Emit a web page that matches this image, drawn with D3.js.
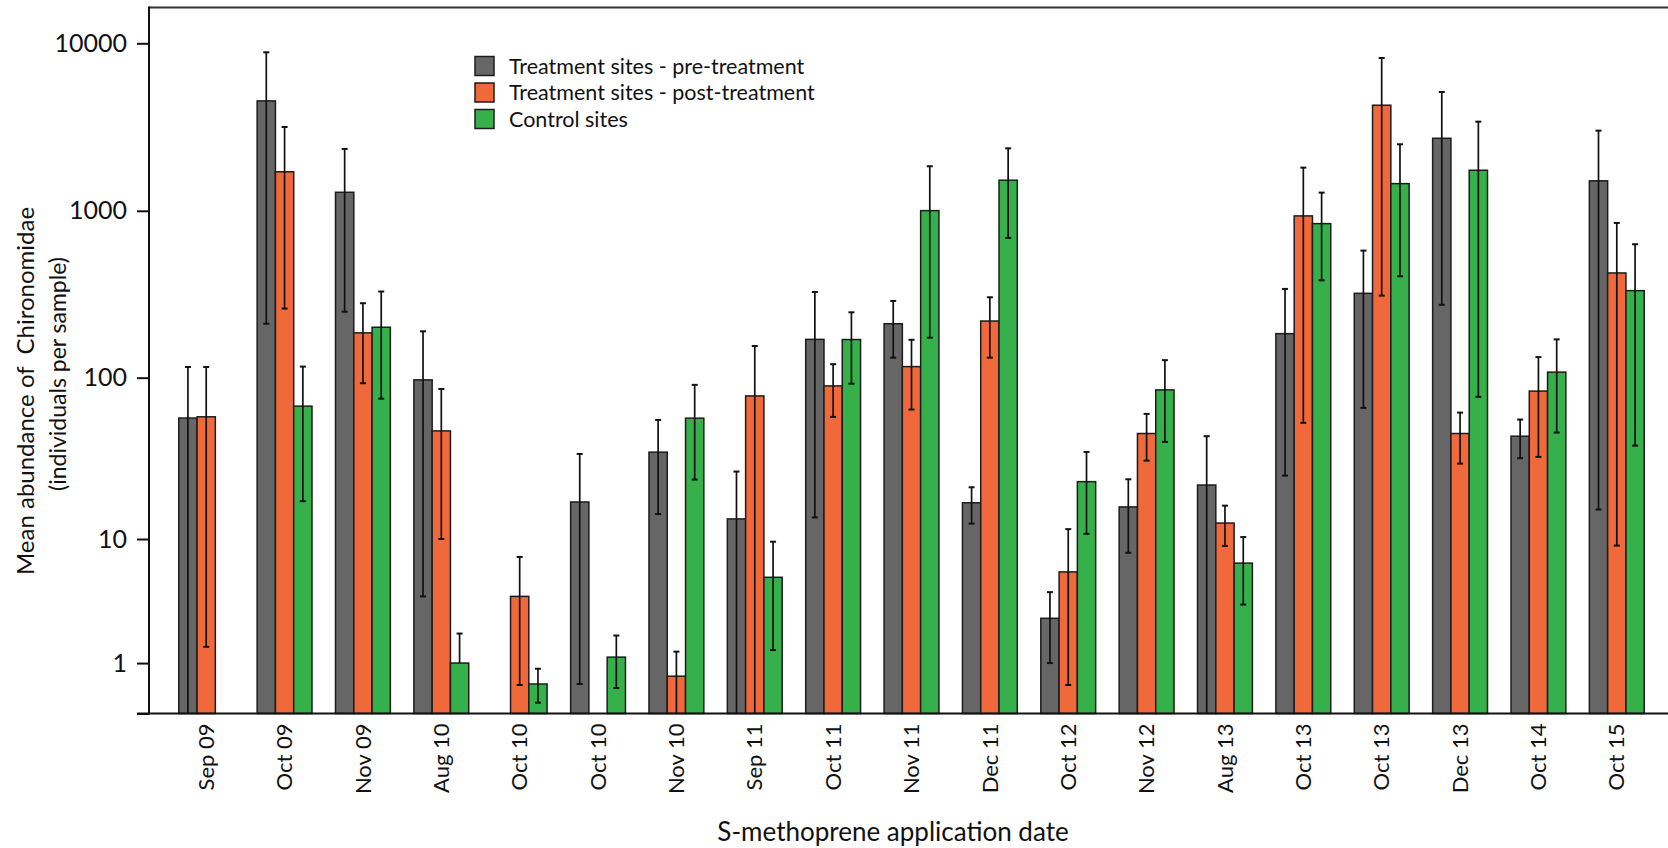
<!DOCTYPE html>
<html>
<head>
<meta charset="utf-8">
<script src="https://cdn.jsdelivr.net/npm/d3@7"></script>
<style>
  html, body { margin: 0; padding: 0; background: #fff; }
  svg { display: block; font-family: Lato, "Open Sans", sans-serif; }
</style>
</head>
<body>
<svg id="chart" width="1668" height="848"></svg>
<script>
// Application dates (two campaigns happened in Oct 10 and Oct 13)
const dates = ["Sep 09","Oct 09","Nov 09","Aug 10","Oct 10","Oct 10","Nov 10","Sep 11","Oct 11",
               "Nov 11","Dec 11","Oct 12","Nov 12","Aug 13","Oct 13","Oct 13","Dec 13","Oct 14","Oct 15"];

const seriesNames = ["Treatment sites - pre-treatment", "Treatment sites - post-treatment", "Control sites"];

// Mean abundance per sample and error-bar bounds (null = not sampled)
const preMean  = [57, 4530, 1290, 97, null, 17.3, 35.3, 13.5, 170, 211, 17.1, 2.7, 16.1, 22.1, 184, 321, 2710, 44.2, 1510];
const preLow   = [0, 211, 249, 4.0, null, 0.5, 14.5, 0, 13.8, 132, 12.6, 1.0, 8.1, 0, 25.3, 65.7, 274, 32.4, 15.5];
const preHigh  = [116, 8840, 2340, 190, null, 34.4, 55.5, 26.8, 327, 289, 21.4, 4.3, 24, 44.2, 341, 578, 5120, 55.8, 3010];

const postMean = [58, 1710, 186, 47.6, 4.0, null, 0.67, 77.6, 89.2, 116.6, 219, 6.0, 45.9, 12.7, 932, 4270, 45.9, 83, 425];
const postLow  = [1.5, 260, 92.6, 10.0, 0.48, null, 0, 0, 57.9, 64.2, 132, 0.48, 31.3, 9.0, 53.3, 311, 30, 33, 9.05];
const postHigh = [116, 3165, 280, 85.5, 7.6, null, 1.34, 155, 120.6, 169, 304, 11.6, 60.4, 16.4, 1810, 8170, 61.5, 133, 846];

const ctrlMean = [null, 67.3, 201, 1.0, 0.5, 1.17, 56.9, 5.5, 169.6, 1002, 1523, 23.2, 84.4, 6.9, 838, 1453, 1746, 108, 333];
const ctrlLow  = [null, 17.5, 74.7, 1.0, 0.16, 0.42, 23.9, 1.39, 92, 174, 688, 10.8, 40.8, 3.47, 384, 406, 76.6, 46.5, 38.7];
const ctrlHigh = [null, 116.6, 329, 2.0, 0.85, 1.92, 90.5, 9.6, 247, 1845, 2361, 35.4, 127.5, 10.3, 1284, 2496, 3406, 170, 631];

const yTicks = [0, 1, 10, 100, 1000, 10000];
const yTickLabels = ["", "1", "10", "100", "1000", "10000"];

const colors = ["#666666", "#EF693B", "#36B04B"];

const svg = d3.select("#chart");

const plotLeft = 149, plotTop = 7.5, plotBottom = 713.5, plotRight = 1668;

const series = [
  {name: seriesNames[0], mean: preMean,  low: preLow,  high: preHigh,  color: colors[0]},
  {name: seriesNames[1], mean: postMean, low: postLow, high: postHigh, color: colors[1]},
  {name: seriesNames[2], mean: ctrlMean, low: ctrlLow, high: ctrlHigh, color: colors[2]}
];

// x: one band per campaign, sub-bands per series
const x0 = d3.scaleBand()
  .domain(d3.range(dates.length))
  .range([plotLeft, 1674])
  .paddingInner(0.3)
  .paddingOuter(0.38);

const x1 = d3.scaleBand()
  .domain(d3.range(series.length))
  .range([0, x0.bandwidth()]);

// y: log(1 + x) axis
const y = d3.scaleSymlog().constant(1)
  .domain([0, 10000])
  .range([plotBottom, 43.3]);

// bars
const groups = svg.append("g").selectAll("g")
  .data(dates.map((d, i) => i))
  .join("g")
  .attr("transform", i => `translate(${x0(i)},0)`);

groups.each(function(i) {
  const g = d3.select(this);
  series.forEach((s, k) => {
    const v = s.mean[i];
    if (v == null) return;
    g.append("rect")
      .attr("x", x1(k))
      .attr("y", y(v))
      .attr("width", x1.bandwidth())
      .attr("height", y(0) - y(v))
      .attr("fill", s.color)
      .attr("stroke", "#1c1c1c")
      .attr("stroke-width", 1.5);
  });
});

// error bars
groups.each(function(i) {
  const g = d3.select(this);
  series.forEach((s, k) => {
    const v = s.mean[i];
    if (v == null) return;
    const cx = x1(k) + x1.bandwidth() / 2;
    const hi = s.high[i], lo = s.low[i];
    g.append("line")
      .attr("x1", cx).attr("x2", cx)
      .attr("y1", y(hi)).attr("y2", y(lo))
      .attr("stroke", "#111").attr("stroke-width", 1.7);
    g.append("line")
      .attr("x1", cx - 3).attr("x2", cx + 3)
      .attr("y1", y(hi)).attr("y2", y(hi))
      .attr("stroke", "#111").attr("stroke-width", 2);
    if (lo > 0 && lo < v) {
      g.append("line")
        .attr("x1", cx - 3).attr("x2", cx + 3)
        .attr("y1", y(lo)).attr("y2", y(lo))
        .attr("stroke", "#111").attr("stroke-width", 2);
    }
  });
});

// frame: top line, left axis, bottom axis
svg.append("line")
  .attr("x1", plotLeft).attr("x2", plotRight)
  .attr("y1", plotTop).attr("y2", plotTop)
  .attr("stroke", "#333").attr("stroke-width", 2);

const yAxis = d3.axisLeft(y)
  .tickValues(yTicks)
  .tickFormat((d, i) => yTickLabels[i])
  .tickSize(12)
  .tickPadding(10);

const yg = svg.append("g")
  .attr("transform", `translate(${plotLeft},0)`)
  .call(yAxis);
yg.select(".domain").remove();
yg.selectAll(".tick line").attr("stroke", "#111").attr("stroke-width", 2);
yg.selectAll(".tick text")
  .attr("fill", "#111")
  .style("font-family", "Lato, sans-serif")
  .style("font-size", "25px");

svg.append("line")
  .attr("x1", plotLeft).attr("x2", plotLeft)
  .attr("y1", plotTop - 1).attr("y2", plotBottom + 1)
  .attr("stroke", "#111").attr("stroke-width", 2);

svg.append("line")
  .attr("x1", plotLeft - 12).attr("x2", plotRight)
  .attr("y1", plotBottom).attr("y2", plotBottom)
  .attr("stroke", "#111").attr("stroke-width", 2);

// x labels, rotated
svg.append("g").selectAll("text")
  .data(dates)
  .join("text")
  .attr("transform", (d, i) => `translate(${x0(i) + x0.bandwidth() / 2},${plotBottom + 10}) rotate(-90)`)
  .attr("text-anchor", "end")
  .attr("dy", "0.35em")
  .attr("fill", "#111")
  .style("font-size", "22px")
  .text(d => d);

// axis titles
svg.append("text")
  .attr("transform", "translate(34,391) rotate(-90)")
  .attr("text-anchor", "middle")
  .attr("fill", "#111")
  .style("font-size", "24px")
  .style("white-space", "pre")
  .text("Mean abundance of  Chironomidae");

svg.append("text")
  .attr("transform", "translate(66,374) rotate(-90)")
  .attr("text-anchor", "middle")
  .attr("fill", "#111")
  .style("font-size", "23px")
  .text("(individuals per sample)");

svg.append("text")
  .attr("x", 893).attr("y", 841)
  .attr("text-anchor", "middle")
  .attr("fill", "#111")
  .style("font-size", "26px")
  .text("S-methoprene application date");

// legend
const legend = svg.append("g").attr("transform", "translate(475,56.5)");
series.forEach((s, k) => {
  const row = legend.append("g").attr("transform", `translate(0,${k * 26.5})`);
  row.append("rect")
    .attr("width", 19).attr("height", 19)
    .attr("fill", s.color)
    .attr("stroke", "#1c1c1c").attr("stroke-width", 1.5);
  row.append("text")
    .attr("x", 34).attr("y", 9.5)
    .attr("dy", "0.35em")
    .attr("fill", "#111")
    .style("font-size", "21.5px")
    .text(s.name);
});
</script>
</body>
</html>
